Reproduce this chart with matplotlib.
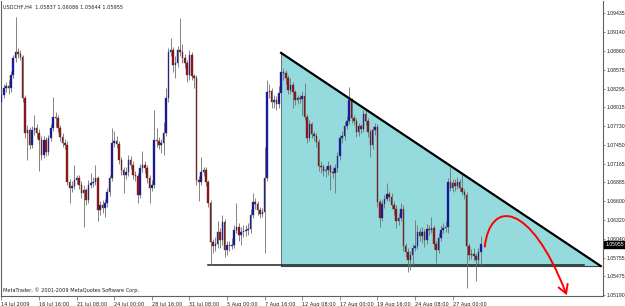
import matplotlib
matplotlib.use("Agg")
import matplotlib.pyplot as plt
import numpy as np
from matplotlib.path import Path
from matplotlib.patches import FancyArrowPatch
from matplotlib.transforms import blended_transform_factory

# USDCHF H4, 14 Jul - 28 Aug 2009
first_open = 1.0810
close = [
    1.0820, 1.0830, 1.0833, 1.0830, 1.0850, 1.0875, 1.0884, 1.0881, 1.0877, 1.0815,
    1.0763, 1.0767, 1.0745, 1.0767, 1.0770, 1.0763, 1.0752, 1.0730, 1.0752, 1.0734,
    1.0755, 1.0770, 1.0787, 1.0785, 1.0770, 1.0757, 1.0748, 1.0745, 1.0689, 1.0680,
    1.0683, 1.0692, 1.0695, 1.0685, 1.0673, 1.0677, 1.0662, 1.0685, 1.0688, 1.0689,
    1.0695, 1.0647, 1.0655, 1.0650, 1.0658, 1.0674, 1.0695, 1.0748, 1.0751, 1.0746,
    1.0722, 1.0707, 1.0700, 1.0704, 1.0722, 1.0715, 1.0700, 1.0698, 1.0670, 1.0710,
    1.0715, 1.0710, 1.0695, 1.0680, 1.0685, 1.0752, 1.0750, 1.0745, 1.0748, 1.0763,
    1.0815, 1.0884, 1.0887, 1.0865, 1.0868, 1.0887, 1.0884, 1.0875, 1.0868, 1.0850,
    1.0880, 1.0848, 1.0845, 1.0692, 1.0689, 1.0704, 1.0707, 1.0689, 1.0658, 1.0599,
    1.0593, 1.0596, 1.0614, 1.0602, 1.0629, 1.0587, 1.0595, 1.0593, 1.0594, 1.0617,
    1.0622, 1.0610, 1.0614, 1.0616, 1.0617, 1.0618, 1.0640, 1.0659, 1.0656, 1.0647,
    1.0641, 1.0644, 1.0695, 1.0824, 1.0826, 1.0809, 1.0812, 1.0806, 1.0823, 1.0854,
    1.0853, 1.0845, 1.0827, 1.0835, 1.0824, 1.0812, 1.0815, 1.0814, 1.0818, 1.0787,
    1.0755, 1.0776, 1.0761, 1.0758, 1.0749, 1.0713, 1.0712, 1.0706, 1.0707, 1.0713,
    1.0704, 1.0703, 1.0710, 1.0728, 1.0755, 1.0758, 1.0773, 1.0781, 1.0812, 1.0785,
    1.0781, 1.0764, 1.0773, 1.0769, 1.0791, 1.0781, 1.0764, 1.0745, 1.0767, 1.0772,
    1.0659, 1.0635, 1.0656, 1.0664, 1.0671, 1.0667, 1.0655, 1.0649, 1.0631, 1.0635,
    1.0649, 1.0593, 1.0584, 1.0572, 1.0580, 1.0590, 1.0593, 1.0614, 1.0608, 1.0614,
    1.0602, 1.0619, 1.0617, 1.0620, 1.0596, 1.0587, 1.0605, 1.0617, 1.0620, 1.0622,
    1.0689, 1.0680, 1.0688, 1.0683, 1.0689, 1.0680, 1.0674, 1.0670, 1.0593, 1.0580,
    1.0581, 1.0578, 1.0572, 1.05837, 1.05955,
]
high = [
    1.0828, 1.0836, 1.0840, 1.0842, 1.0856, 1.0880, 1.0937, 1.0890, 1.0888, 1.0880,
    1.0820, 1.0775, 1.0772, 1.0773, 1.0790, 1.0776, 1.0768, 1.0758, 1.0758, 1.0757,
    1.0760, 1.0776, 1.0817, 1.0795, 1.0790, 1.0774, 1.0762, 1.0753, 1.0750, 1.0694,
    1.0690, 1.0715, 1.0700, 1.0700, 1.0690, 1.0684, 1.0680, 1.0692, 1.0703, 1.0697,
    1.0715, 1.0698, 1.0660, 1.0662, 1.0664, 1.0680, 1.0700, 1.0770, 1.0765, 1.0758,
    1.0750, 1.0727, 1.0712, 1.0712, 1.0730, 1.0728, 1.0720, 1.0706, 1.0702, 1.0716,
    1.0735, 1.0720, 1.0714, 1.0700, 1.0692, 1.0797, 1.0770, 1.0756, 1.0754, 1.0780,
    1.0830, 1.0890, 1.0905, 1.0892, 1.0878, 1.0893, 1.0935, 1.0897, 1.0882, 1.0872,
    1.0887, 1.0884, 1.0852, 1.0850, 1.0698, 1.0727, 1.0712, 1.0712, 1.0692, 1.0662,
    1.0603, 1.0606, 1.0631, 1.0620, 1.0640, 1.0634, 1.0600, 1.0600, 1.0605, 1.0624,
    1.0658, 1.0628, 1.0622, 1.0624, 1.0625, 1.0628, 1.0648, 1.0672, 1.0665, 1.0660,
    1.0652, 1.0650, 1.0742, 1.0842, 1.0836, 1.0830, 1.0820, 1.0818, 1.0833, 1.0883,
    1.0860, 1.0858, 1.0850, 1.0845, 1.0840, 1.0828, 1.0820, 1.0820, 1.0826, 1.0838,
    1.0792, 1.0782, 1.0780, 1.0766, 1.0762, 1.0754, 1.0720, 1.0716, 1.0713, 1.0720,
    1.0716, 1.0712, 1.0716, 1.0734, 1.0760, 1.0765, 1.0780, 1.0788, 1.0832, 1.0816,
    1.0790, 1.0786, 1.0778, 1.0777, 1.0797, 1.0798, 1.0786, 1.0768, 1.0773, 1.0778,
    1.0776, 1.0664, 1.0662, 1.0670, 1.0688, 1.0676, 1.0672, 1.0660, 1.0655, 1.0642,
    1.0658, 1.0655, 1.0598, 1.0590, 1.0586, 1.0596, 1.0632, 1.0625, 1.0620, 1.0622,
    1.0618, 1.0626, 1.0625, 1.0637, 1.0624, 1.0600, 1.0612, 1.0624, 1.0628, 1.0630,
    1.0695, 1.0712, 1.0694, 1.0693, 1.0696, 1.0693, 1.0703, 1.0678, 1.0674, 1.0598,
    1.0588, 1.0590, 1.0582, 1.0590, 1.06086,
]
low = [
    1.0803, 1.0815, 1.0824, 1.0822, 1.0825, 1.0846, 1.0870, 1.0876, 1.0872, 1.0810,
    1.0755, 1.0722, 1.0738, 1.0740, 1.0760, 1.0755, 1.0705, 1.0722, 1.0725, 1.0728,
    1.0730, 1.0750, 1.0765, 1.0772, 1.0764, 1.0750, 1.0742, 1.0738, 1.0684, 1.0658,
    1.0674, 1.0678, 1.0686, 1.0678, 1.0665, 1.0622, 1.0655, 1.0658, 1.0680, 1.0682,
    1.0684, 1.0630, 1.0640, 1.0643, 1.0636, 1.0652, 1.0668, 1.0690, 1.0742, 1.0740,
    1.0716, 1.0700, 1.0672, 1.0694, 1.0698, 1.0708, 1.0693, 1.0690, 1.0657, 1.0665,
    1.0704, 1.0703, 1.0688, 1.0658, 1.0675, 1.0680, 1.0742, 1.0738, 1.0733, 1.0730,
    1.0758, 1.0810, 1.0878, 1.0855, 1.0845, 1.0862, 1.0878, 1.0868, 1.0860, 1.0840,
    1.0843, 1.0842, 1.0830, 1.0685, 1.0660, 1.0684, 1.0698, 1.0683, 1.0652, 1.0565,
    1.0582, 1.0585, 1.0590, 1.0590, 1.0594, 1.0576, 1.0580, 1.0585, 1.0588, 1.0590,
    1.0612, 1.0600, 1.0595, 1.0607, 1.0608, 1.0610, 1.0612, 1.0635, 1.0648, 1.0640,
    1.0635, 1.0636, 1.0583, 1.0690, 1.0815, 1.0800, 1.0800, 1.0798, 1.0800, 1.0818,
    1.0842, 1.0836, 1.0822, 1.0822, 1.0800, 1.0805, 1.0806, 1.0808, 1.0790, 1.0782,
    1.0748, 1.0750, 1.0755, 1.0750, 1.0742, 1.0705, 1.0703, 1.0698, 1.0697, 1.0700,
    1.0677, 1.0695, 1.0673, 1.0704, 1.0722, 1.0748, 1.0752, 1.0768, 1.0776, 1.0778,
    1.0775, 1.0757, 1.0758, 1.0762, 1.0764, 1.0774, 1.0756, 1.0727, 1.0738, 1.0760,
    1.0652, 1.0622, 1.0630, 1.0650, 1.0660, 1.0660, 1.0648, 1.0640, 1.0620, 1.0625,
    1.0630, 1.0585, 1.0576, 1.0554, 1.0557, 1.0565, 1.0585, 1.0588, 1.0600, 1.0598,
    1.0592, 1.0596, 1.0610, 1.0612, 1.0588, 1.0568, 1.0582, 1.0600, 1.0612, 1.0614,
    1.0612, 1.0675, 1.0674, 1.0676, 1.0678, 1.0675, 1.0670, 1.0664, 1.0530, 1.0572,
    1.0573, 1.0570, 1.0541, 1.0566, 1.05644,
]

date_ticks = [0, 16, 32, 48, 64, 80, 96, 112, 128, 144, 160, 176, 192]
date_labels = ["14 Jul 2009", "16 Jul 16:00", "21 Jul 08:00", "24 Jul 00:00",
               "28 Jul 16:00", "31 Jul 08:00", "5 Aug 00:00", "7 Aug 16:00",
               "12 Aug 08:00", "17 Aug 00:00", "19 Aug 16:00", "24 Aug 08:00",
               "27 Aug 00:00"]
price_ticks = [1.09435, 1.09140, 1.08860, 1.08575, 1.08295, 1.08015, 1.07730,
               1.07450, 1.07165, 1.06885, 1.06600, 1.06320, 1.06040, 1.05755,
               1.05475, 1.05190]

# drawn objects: descending triangle, support line, red forecast arc
tri_bar = [119, 119, 255]
tri_price = [1.0883, 1.0563, 1.0563]
support_bar = [88, 248]
support_price = [1.0564, 1.0564]
arc_bar = [205.7, 207.9, 224.9, 240.6]
arc_price = [1.0592, 1.0662, 1.0662, 1.0519]

close = np.array(close)
high = np.array(high)
low = np.array(low)
opn = np.r_[first_open, close[:-1]]
opn[-1] = 1.05837
x = np.arange(len(close))

FS = 3.6
fig = plt.figure(figsize=(6.25, 3.06), dpi=100)
ax = fig.add_axes([1 / 625, 10 / 306, 602 / 625, 295 / 306])
ax.set_xlim(-0.2, 256)
ax.set_ylim(1.05179, 1.0961)

# triangle + lines
ax.fill(tri_bar, tri_price, color="#95dbdd", lw=0, zorder=1)
ax.plot(tri_bar[:2], tri_price[:2], color="#606060", lw=0.6, zorder=1.5)
ax.plot([tri_bar[1], tri_bar[2]], [tri_price[1], tri_price[2]], color="#2a4a4a", lw=0.8, zorder=1.5)
ax.plot(support_bar, support_price, color="#202020", lw=1.1, zorder=1.6)
ax.plot([tri_bar[0], tri_bar[2]], [tri_price[0], tri_price[2]], color="black", lw=1.6, zorder=5)

# candles
up = close >= opn
ax.vlines(x, low, high, color="#707070", lw=0.6, zorder=2)
body_lo = np.minimum(opn, close)
body_h = np.maximum(np.abs(close - opn), 0.00004)
ax.bar(x[up], body_h[up], bottom=body_lo[up], width=0.65, color="#1010b0",
       edgecolor="#404060", lw=0.3, zorder=3)
ax.bar(x[~up], body_h[~up], bottom=body_lo[~up], width=0.65, color="#a01010",
       edgecolor="#503030", lw=0.3, zorder=3)

# red arc arrow
verts = list(zip(arc_bar, arc_price))
path = Path(verts, [Path.MOVETO, Path.CURVE4, Path.CURVE4, Path.CURVE4])
arrow = FancyArrowPatch(path=path, arrowstyle="->,head_length=0.6,head_width=0.35",
                        mutation_scale=10, color="red", lw=1.4, zorder=6, clip_on=False)
ax.add_patch(arrow)

# axes look
ax.spines["top"].set_visible(False)
for s in ["left", "right", "bottom"]:
    ax.spines[s].set_color("#606060")
    ax.spines[s].set_linewidth(0.8)

ax.set_xticks(date_ticks)
ax.set_xticklabels(date_labels, fontsize=FS, ha="left", color="#202020")
ax.tick_params(axis="x", length=3, width=0.5, color="#606060", pad=1)
ax.yaxis.tick_right()
ax.set_yticks(price_ticks)
ax.set_yticklabels(["%.5f" % p for p in price_ticks], fontsize=3.7,
                   family="Liberation Sans", color="#202020")
ax.tick_params(axis="y", length=1.5, width=0.5, color="#606060", pad=1)

# current price box
trans = blended_transform_factory(ax.transAxes, ax.transData)
ax.text(1.004, close[-1], "%.5f" % close[-1], transform=trans, fontsize=3.7,
        family="Liberation Sans", color="white", va="center", ha="left",
        bbox=dict(boxstyle="square,pad=0.25", fc="black", ec="black"), zorder=10)

fig.text(3 / 625, 1 - 7 / 306, "USDCHF,H4  1.05837 1.06086 1.05644 1.05955",
         fontsize=FS, va="center", ha="left", color="#202020")
fig.text(3 / 625, 1 - 290 / 306, "MetaTrader, \u00a9 2001-2009 MetaQuotes Software Corp.",
         fontsize=FS, va="center", ha="left", color="#202020")

fig.savefig("out.png", dpi=100)
